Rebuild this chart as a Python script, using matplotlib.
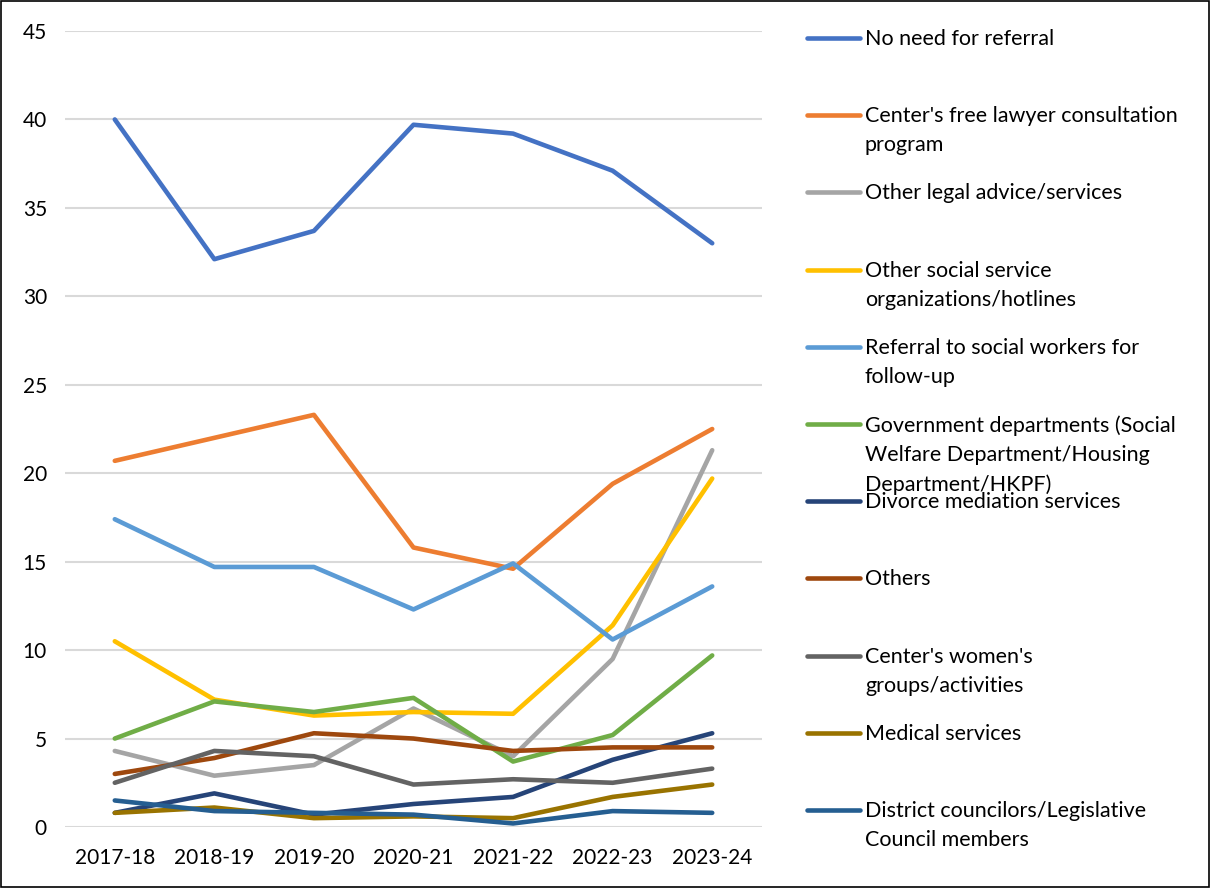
import matplotlib
matplotlib.use("Agg")
import matplotlib.pyplot as plt
from matplotlib.lines import Line2D
from matplotlib.patches import Rectangle

plt.rcParams['font.family'] = ['Lato', 'DejaVu Sans']

years = ["2017-18", "2018-19", "2019-20", "2020-21", "2021-22", "2022-23", "2023-24"]

series_names = [
    "No need for referral",
    "Center's free lawyer consultation\nprogram",
    "Other legal advice/services",
    "Other social service\norganizations/hotlines",
    "Referral to social workers for\nfollow-up",
    "Government departments (Social\nWelfare Department/Housing\nDepartment/HKPF)",
    "Divorce mediation services",
    "Others",
    "Center's women's\ngroups/activities",
    "Medical services",
    "District councilors/Legislative\nCouncil members",
]

no_need = [40.0, 32.1, 33.7, 39.7, 39.2, 37.1, 33.0]
free_lawyer = [20.7, 22.0, 23.3, 15.8, 14.6, 19.4, 22.5]
other_legal = [4.3, 2.9, 3.5, 6.7, 4.0, 9.5, 21.3]
other_social = [10.5, 7.2, 6.3, 6.5, 6.4, 11.4, 19.7]
social_workers = [17.4, 14.7, 14.7, 12.3, 14.9, 10.6, 13.6]
government = [5.0, 7.1, 6.5, 7.3, 3.7, 5.2, 9.7]
divorce_mediation = [0.8, 1.9, 0.7, 1.3, 1.7, 3.8, 5.3]
others = [3.0, 3.9, 5.3, 5.0, 4.3, 4.5, 4.5]
women_groups = [2.5, 4.3, 4.0, 2.4, 2.7, 2.5, 3.3]
medical = [0.8, 1.1, 0.5, 0.6, 0.5, 1.7, 2.4]
councilors = [1.5, 0.9, 0.8, 0.7, 0.2, 0.9, 0.8]

all_series = [no_need, free_lawyer, other_legal, other_social, social_workers,
              government, divorce_mediation, others, women_groups, medical, councilors]

colors = ["#4472C4", "#ED7D31", "#A5A5A5", "#FFC000", "#5B9BD5", "#70AD47",
          "#264478", "#9E480E", "#636363", "#997300", "#255E91"]

W, H = 1210, 889
fig = plt.figure(figsize=(W / 100, H / 100), dpi=100)

# plot area in pixel coordinates
left, right, top, bottom = 65, 762, 31, 827
ax = fig.add_axes([left / W, 1 - bottom / H, (right - left) / W, (bottom - top) / H])

x = list(range(len(years)))
for vals, c in zip(all_series, colors):
    ax.plot(x, vals, color=c, lw=3.3, solid_capstyle='round', solid_joinstyle='round', zorder=3)

ax.set_xlim(-0.5, len(years) - 0.5)
ax.set_ylim(0, 45)
ax.set_yticks(range(0, 50, 5))
ax.set_xticks(x)
ax.set_xticklabels(years)
ax.tick_params(axis='both', length=0, labelsize=15, colors='black')
ax.tick_params(axis='y', pad=13)
ax.tick_params(axis='x', pad=15)
ax.grid(axis='y', color='#D9D9D9', lw=1.5, zorder=0)
for s in ax.spines.values():
    s.set_visible(False)
ax.set_axisbelow(True)

# legend drawn entry by entry on the right side
y0, dy = 38, 77.2
for i, (name, c) in enumerate(zip(series_names, colors)):
    yp = y0 + i * dy
    fig.add_artist(Line2D([807 / W, 860 / W], [1 - yp / H, 1 - yp / H],
                          color=c, lw=3.3, solid_capstyle='round'))
    fig.text(865 / W, 1 - (yp - 9) / H, name, ha='left', va='top',
             fontsize=15.5, linespacing=1.58, color='black')

# outer frame
fig.add_artist(Rectangle((0.5 / W, 2.5 / H), (W - 1.5) / W, (H - 3.5) / H,
                         transform=fig.transFigure, fill=False, ec='black', lw=1.2))

fig.savefig("out.png", dpi=100)
